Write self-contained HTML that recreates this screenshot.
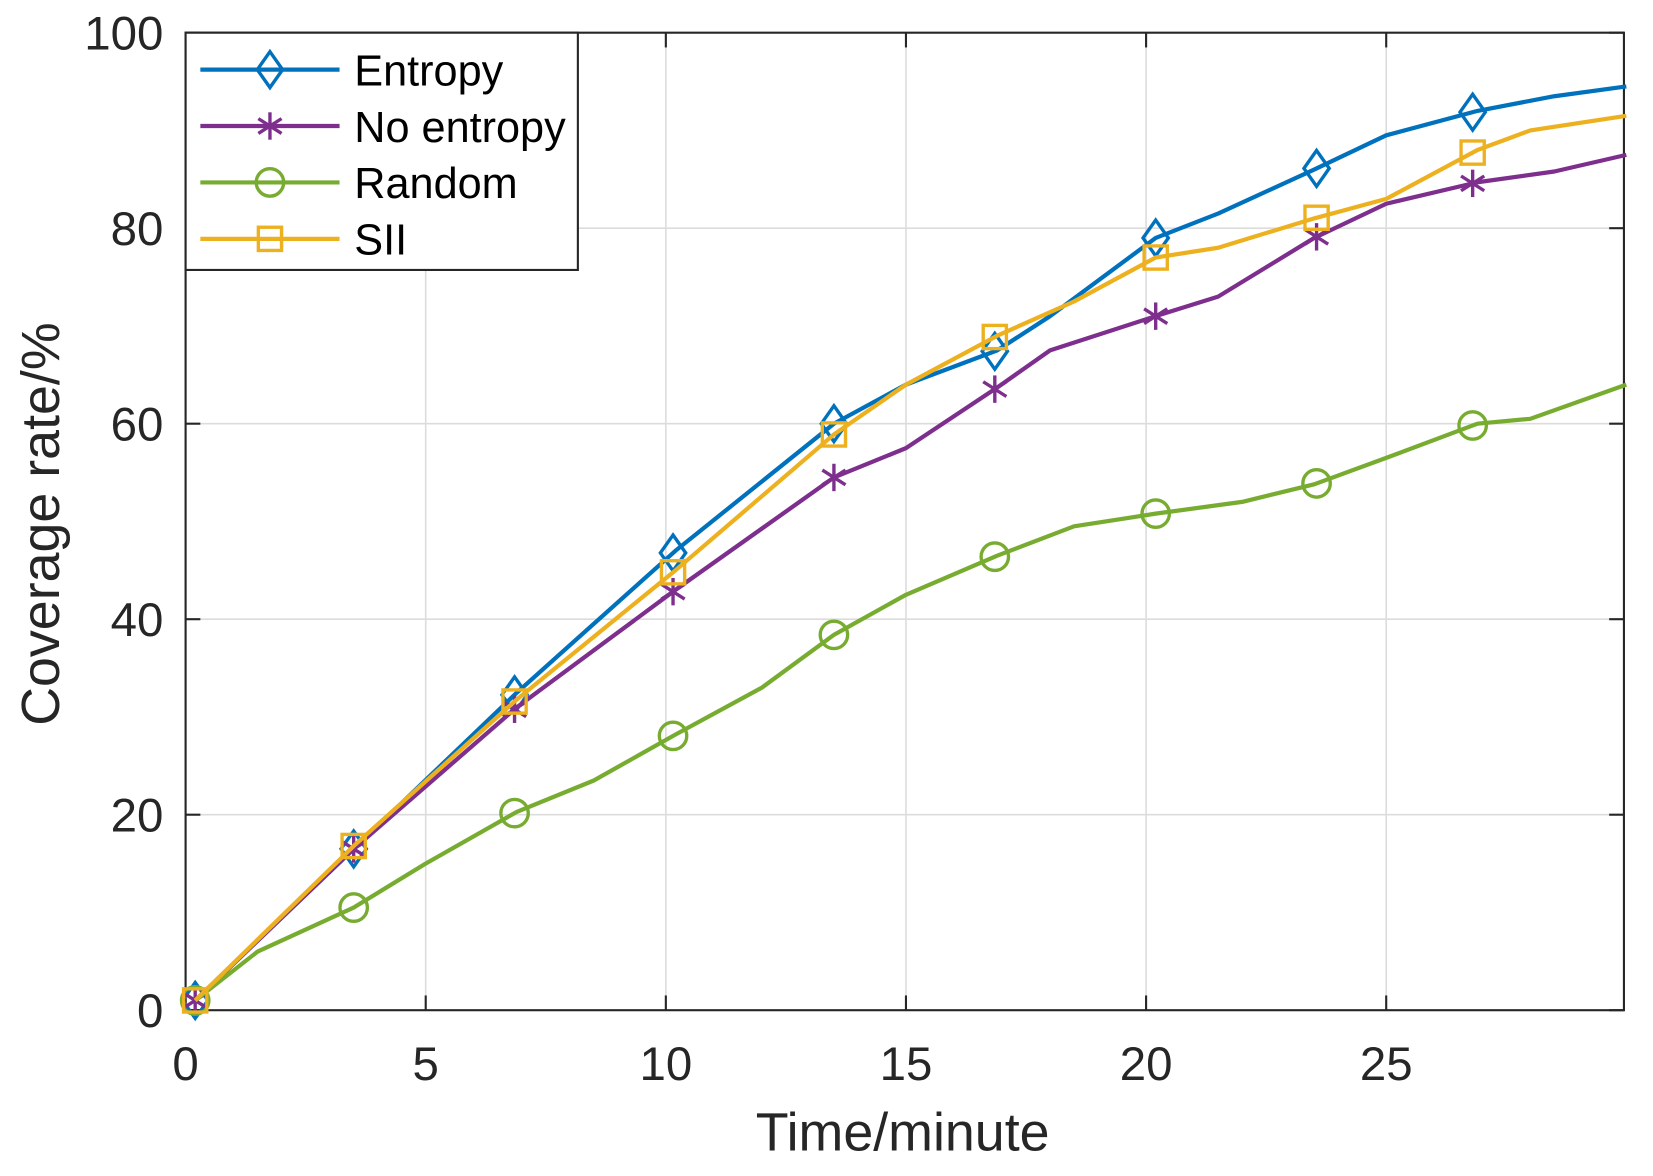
<!DOCTYPE html>
<html><head><meta charset="utf-8"><style>
html,body{margin:0;padding:0;background:#fff}
svg{display:block;font-family:"Liberation Sans",Arial,sans-serif}
</style></head><body>
<svg width="1653" height="1176" viewBox="0 0 1653 1176"><g id="chart" transform="scale(1.0545)"></g></svg>
<script>
const entropyT=[0.2,3.5,6.9,10.2,13.5,15,16.9,18,20.2,21.5,23.5,25,26.9,28.5,30];
const entropyV=[1,16.5,32.5,47,60,64,67.5,71,79,81.5,86,89.5,92,93.5,94.5];
const noEntropyT=[0.2,3.5,6.9,10.2,13.5,15,16.9,18,20.2,21.5,23.5,25,26.9,28.5,30];
const noEntropyV=[1,16.5,31,43,54.5,57.5,63.7,67.5,71,73,79,82.5,84.7,85.8,87.5];
const randomT=[0.2,1.5,3.5,5,6.9,8.5,10.2,12,13.5,15,16.9,18.5,20.2,22,23.5,25,26.9,28,30];
const randomV=[1,6,10.5,15,20.3,23.5,28.2,33,38.4,42.5,46.5,49.5,50.8,52,53.8,56.5,60,60.5,64];
const siiT=[0.2,3.5,6.9,10.2,13.5,15,16.9,18.5,20.2,21.5,23.5,25,26.9,28,30];
const siiV=[1,16.8,31.8,45,58.9,64,69,72.5,77,78,81,83,88,90,91.5];
const markerT=[0.2,3.5,6.85,10.15,13.5,16.85,20.2,23.55,26.8];
const xTicks=[0,5,10,15,20,25];
const yTicks=[0,20,40,60,80,100];

const L=176,R=1540,T=31,B=958,XMAX=29.95;
const sx=v=>L+v/XMAX*(R-L), sy=v=>B-v/100*(B-T);
const NS="http://www.w3.org/2000/svg", svg=document.getElementById('chart');
function mk(tag,a,parent){const e=document.createElementNS(NS,tag);for(const k in a)e.setAttribute(k,a[k]);(parent||svg).appendChild(e);return e;}
function interp(ts,vs,t){for(let i=0;i<ts.length-1;i++){if(t<=ts[i+1])return vs[i]+(vs[i+1]-vs[i])*(t-ts[i])/(ts[i+1]-ts[i]);}return vs[vs.length-1];}

xTicks.forEach(t=>{if(t===0)return;const g=mk('line',{x1:sx(t),x2:sx(t),y1:T,y2:B,stroke:'#dcdcdc','stroke-width':1.5});

});
yTicks.forEach(t=>{if(t===0||t===100)return;const g=mk('line',{x1:L,x2:R,y1:sy(t),y2:sy(t),stroke:'#dcdcdc','stroke-width':1.5});

});
const box=mk('rect',{x:L,y:T,width:R-L,height:B-T,fill:'none',stroke:'#262626','stroke-width':2});


xTicks.forEach(t=>{mk('line',{x1:sx(t),x2:sx(t),y1:B,y2:B-14,stroke:'#262626','stroke-width':2});mk('line',{x1:sx(t),x2:sx(t),y1:T,y2:T+14,stroke:'#262626','stroke-width':2});
const tx=mk('text',{x:sx(t),y:1024,'font-size':45,'text-anchor':'middle',fill:'#262626'});tx.textContent=t;

});
yTicks.forEach(t=>{mk('line',{x1:L,x2:L+14,y1:sy(t),y2:sy(t),stroke:'#262626','stroke-width':2});mk('line',{x1:R,x2:R-14,y1:sy(t),y2:sy(t),stroke:'#262626','stroke-width':2});
const tx=mk('text',{x:155,y:sy(t)+16,'font-size':45,'text-anchor':'end',fill:'#262626'});tx.textContent=t;

});
const xt=mk('text',{x:856,y:1091,'font-size':51,'text-anchor':'middle',fill:'#262626'});xt.textContent='Time/minute';


const yt=mk('text',{x:0,y:0,'font-size':51,'text-anchor':'middle',fill:'#262626',transform:'translate(56,497) rotate(-90)'});yt.textContent='Coverage rate/%';



function marker(type,x,y,c,parent){
  const a={fill:'none',stroke:c,'stroke-width':3.2};
  if(type==='d')return mk('polygon',Object.assign({points:`${x},${y-17} ${x+12},${y} ${x},${y+17} ${x-12},${y}`},a),parent);
  if(type==='o')return mk('circle',Object.assign({cx:x,cy:y,r:13},a),parent);
  if(type==='s')return mk('rect',Object.assign({x:x-11,y:y-11,width:22,height:22},a),parent);
  const g=mk('g',{},parent);
  [[0,-13,0,13],[-11,-7,11,7],[-11,7,11,-7]].forEach(p=>mk('line',{x1:x+p[0],y1:y+p[1],x2:x+p[2],y2:y+p[3],stroke:c,'stroke-width':3.2},g));
  return g;
}
const series=[
 {name:'Entropy',ts:entropyT,vs:entropyV,c:'#0072BD',m:'d',id:'entropy'},
 {name:'No entropy',ts:noEntropyT,vs:noEntropyV,c:'#7E2F8E',m:'*',id:'no-entropy'},
 {name:'Random',ts:randomT,vs:randomV,c:'#77AC30',m:'o',id:'random'},
 {name:'SII',ts:siiT,vs:siiV,c:'#EDB120',m:'s',id:'sii'}];
series.forEach(s=>{
  const g=mk('g',{});
  
  
  const p=mk('polyline',{points:s.ts.map((t,i)=>sx(t)+','+sy(s.vs[i])).join(' '),fill:'none',stroke:s.c,'stroke-width':4,'stroke-linejoin':'round'},g);
  
  
  markerT.forEach(t=>{const m=marker(s.m,sx(t),sy(interp(s.ts,s.vs,t)),s.c,g);
    
    });
});
const lg=mk('g',{});


mk('rect',{x:176,y:31,width:372,height:225,fill:'#fff',stroke:'#262626','stroke-width':2},lg);
series.forEach((s,i)=>{
  const y=66+i*53.5;
  const e=mk('g',{},lg);
  
  
  mk('line',{x1:190,x2:322,y1:y,y2:y,stroke:s.c,'stroke-width':4},e);
  marker(s.m,256,y,s.c,e);
  const tx=mk('text',{x:336,y:y+15,'font-size':41,fill:'#000'},e);tx.textContent=s.name;
});
</script>
</body></html>
